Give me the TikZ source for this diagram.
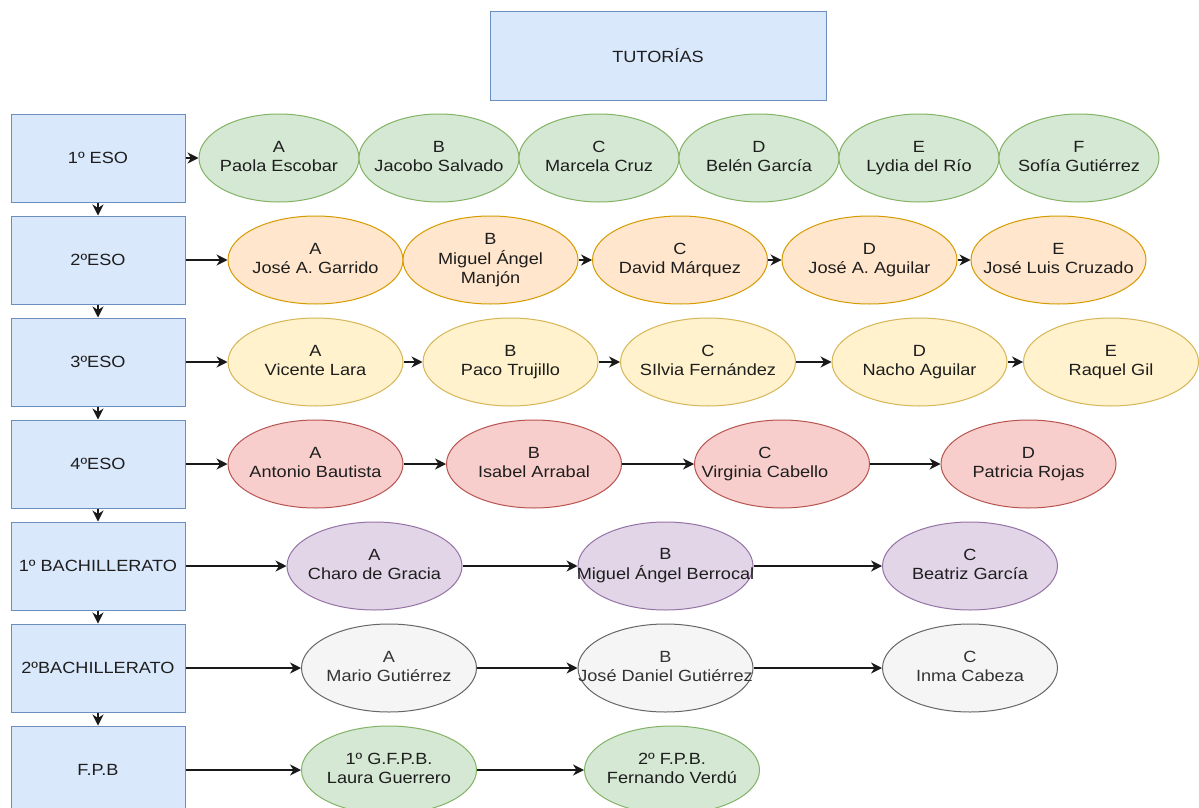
\documentclass[tikz,border=0pt]{standalone}
\usepackage{fontspec}
\setmainfont{Liberation Sans}[FakeStretch=1.12]
\usetikzlibrary{shapes.geometric,arrows.meta}
\definecolor{bfill}{HTML}{DAE8FC}\definecolor{bdraw}{HTML}{6C8EBF}
\definecolor{gfill}{HTML}{D5E8D4}\definecolor{gdraw}{HTML}{82B366}
\definecolor{ofill}{HTML}{FFE6CC}\definecolor{odraw}{HTML}{D79B00}
\definecolor{yfill}{HTML}{FFF2CC}\definecolor{ydraw}{HTML}{D6B656}
\definecolor{rfill}{HTML}{F8CECC}\definecolor{rdraw}{HTML}{B85450}
\definecolor{pfill}{HTML}{E1D5E7}\definecolor{pdraw}{HTML}{9673A6}
\definecolor{nfill}{HTML}{F5F5F5}\definecolor{ndraw}{HTML}{666666}
\definecolor{ntext}{HTML}{333333}
\definecolor{mtext}{HTML}{1E1E1E}
\newcommand{\twol}[2][0pt]{\makebox[0pt]{\kern#1\begin{tabular}{@{}c@{}}#2\end{tabular}}}
\begin{document}
\begin{tikzpicture}[x=1pt,y=-1pt,
  every node/.style={font=\fontsize{16.2}{19}\selectfont, text=mtext},
  grp/.style={draw=bdraw, fill=bfill, line width=1pt, minimum width=174pt, minimum height=88pt, inner sep=0pt},
  ell/.style={ellipse, line width=1pt, minimum height=88pt, minimum width=175pt, inner sep=0pt},
  eg/.style={ell, draw=gdraw, fill=gfill},
  eo/.style={ell, draw=odraw, fill=ofill},
  ey/.style={ell, draw=ydraw, fill=yfill},
  er/.style={ell, draw=rdraw, fill=rfill},
  ep/.style={ell, draw=pdraw, fill=pfill},
  en/.style={ell, draw=ndraw, fill=nfill, text=ntext},
  arr/.style={-{Stealth[length=11pt,width=11pt,inset=3.5pt]}, line width=1.3pt, draw=black!90}]
\useasboundingbox (0,0) rectangle (1199,808);
\fill[white] (0,0) rectangle (1199,808);

\node[grp, minimum width=336pt] (tut) at (658,56) {TUTORÍAS};

\node[grp] (L1) at (98,158) {1º ESO};
\node[grp] (L2) at (98,260) {2ºESO};
\node[grp] (L3) at (98,362) {3ºESO};
\node[grp] (L4) at (98,464) {4ºESO};
\node[grp] (L5) at (98,566) {1º BACHILLERATO};
\node[grp] (L6) at (98,668) {2ºBACHILLERATO};
\node[grp] (L7) at (98,770) {F.P.B};

\foreach \a/\b in {L1/L2,L2/L3,L3/L4,L4/L5,L5/L6,L6/L7}
  \draw[arr] (\a) -- (\b);

% row 1
\node[eg, minimum width=160pt] (a1) at (279,158) {\twol{A\\Paola Escobar}};
\node[eg, minimum width=160pt] (b1) at (439,158) {\twol{B\\Jacobo Salvado}};
\node[eg, minimum width=160pt] (c1) at (599,158) {\twol{C\\Marcela Cruz}};
\node[eg, minimum width=160pt] (d1) at (759,158) {\twol{D\\Belén García}};
\node[eg, minimum width=160pt] (e1) at (919,158) {\twol{E\\Lydia del Río}};
\node[eg, minimum width=160pt] (f1) at (1079,158) {\twol{F\\Sofía Gutiérrez}};
\draw[arr] (L1) -- (a1);

% row 2
\node[eo] (a2) at (315.5,260) {\twol{A\\José A. Garrido}};
\node[eo] (b2) at (490.5,260) {\twol{B\\Miguel Ángel\\Manjón}};
\node[eo] (c2) at (680,260) {\twol{C\\David Márquez}};
\node[eo] (d2) at (869.5,260) {\twol{D\\José A. Aguilar}};
\node[eo] (e2) at (1058.5,260) {\twol{E\\José Luis Cruzado}};
\draw[arr] (L2) -- (a2);
\draw[arr] (b2) -- (c2);
\draw[arr] (c2) -- (d2);
\draw[arr] (d2) -- (e2);

% row 3
\node[ey] (a3) at (315.5,362) {\twol{A\\Vicente Lara}};
\node[ey] (b3) at (510.5,362) {\twol{B\\Paco Trujillo}};
\node[ey] (c3) at (708,362) {\twol{C\\SIlvia Fernández}};
\node[ey] (d3) at (919.5,362) {\twol{D\\Nacho Aguilar}};
\node[ey] (e3) at (1111,362) {\twol{E\\Raquel Gil}};
\draw[arr] (L3) -- (a3);
\draw[arr] (a3) -- (b3);
\draw[arr] (b3) -- (c3);
\draw[arr] (c3) -- (d3);
\draw[arr] (d3) -- (e3);

% row 4
\node[er] (a4) at (315.5,464) {\twol{A\\Antonio Bautista}};
\node[er] (b4) at (534,464) {\twol{B\\Isabel Arrabal}};
\node[er] (c4) at (782,464) {\twol[-34pt]{C\\Virginia Cabello}};
\node[er] (d4) at (1028.5,464) {\twol{D\\Patricia Rojas}};
\draw[arr] (L4) -- (a4);
\draw[arr] (a4) -- (b4);
\draw[arr] (b4) -- (c4);
\draw[arr] (c4) -- (d4);

% row 5
\node[ep] (a5) at (374.5,566) {\twol{A\\Charo de Gracia}};
\node[ep] (b5) at (665.5,566) {\twol{B\\Miguel Ángel Berrocal}};
\node[ep] (c5) at (970,566) {\twol{C\\Beatriz García}};
\draw[arr] (L5) -- (a5);
\draw[arr] (a5) -- (b5);
\draw[arr] (b5) -- (c5);

% row 6
\node[en] (a6) at (389,668) {\twol{A\\Mario Gutiérrez}};
\node[en] (b6) at (665.5,668) {\twol{B\\José Daniel Gutiérrez}};
\node[en] (c6) at (970,668) {\twol{C\\Inma Cabeza}};
\draw[arr] (L6) -- (a6);
\draw[arr] (a6) -- (b6);
\draw[arr] (b6) -- (c6);

% row 7
\node[eg] (a7) at (389,770) {\twol{1º G.F.P.B.\\Laura Guerrero}};
\node[eg] (b7) at (672,770) {\twol{2º F.P.B.\\Fernando Verdú}};
\draw[arr] (L7) -- (a7);
\draw[arr] (a7) -- (b7);
\end{tikzpicture}
\end{document}
